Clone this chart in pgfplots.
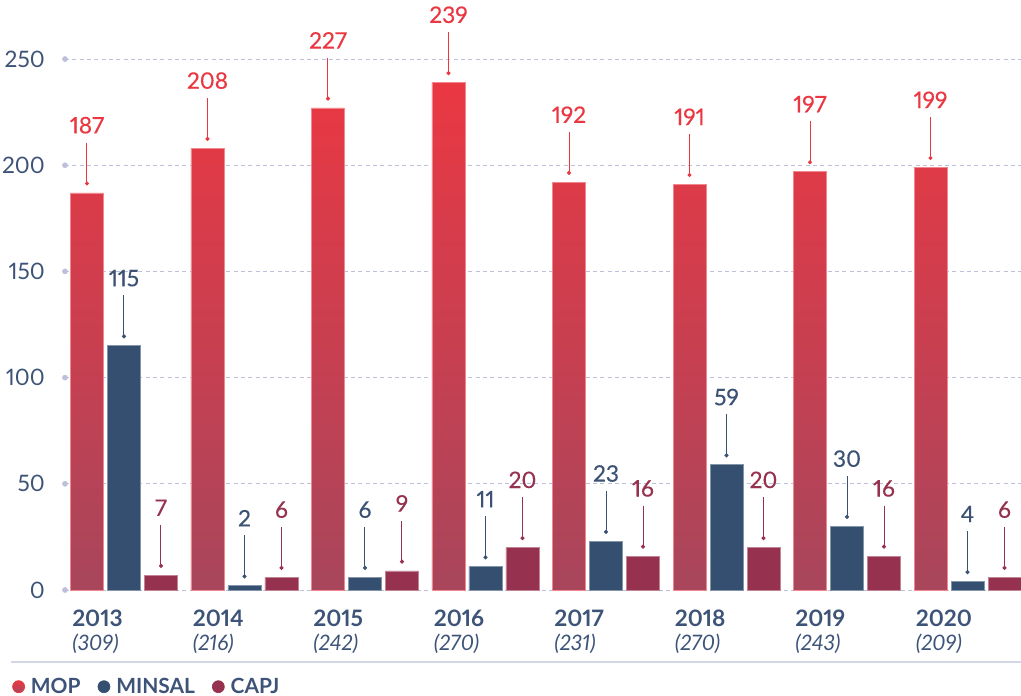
\documentclass[border=0pt]{standalone}
\usepackage{fontspec}
\setmainfont{Lato}[Numbers=Proportional]
\newfontfamily\medfont{Lato}[Numbers=Proportional, FakeBold=0.4]
\usepackage{pgfplots}
\pgfplotsset{compat=1.18}
\usetikzlibrary{arrows.meta}
\definecolor{mopA}{HTML}{EA3843}
\definecolor{mopB}{HTML}{A8465C}
\definecolor{minsal}{HTML}{344F6F}
\definecolor{capj}{HTML}{96324F}
\definecolor{minsalT}{HTML}{3B5274}
\definecolor{axt}{HTML}{3D5478}
\definecolor{gridc}{HTML}{BCC0D8}
\definecolor{sepc}{HTML}{D3D7E4}
\newcommand{\vfont}{\medfont\fontsize{17}{20}\selectfont}
\newcommand{\yl}[2]{{\fontsize{17}{17.5}\selectfont\bfseries\upshape #1}\\(#2)}
\tikzset{vlab/.style={inner sep=0pt, outer sep=0pt, yshift=4.5pt,
  pin={[pin distance=32.25pt, inner sep=0pt, outer sep=6.75pt, text=#1, font=\vfont,
   pin edge={{Circle[length=3pt]}-, draw=#1, line width=0.75pt}]90:{\pgfmathprintnumber{\pgfplotspointmeta}}}}}
\begin{document}
\begin{tikzpicture}
\begin{axis}[name=ax, scale only axis, width=717pt, height=442.5pt,
  xmin=-0.4896, xmax=7.444, ymin=0, ymax=277.8,
  axis line style={draw=none}, major tick style={draw=none},
  ytick={0,50,100,150,200,250},
  ymajorgrids, major grid style={draw=gridc, dash pattern=on 3pt off 2.5pt, line width=0.75pt},
  xtick={0,...,7},
  xticklabels={{\yl{2013}{309}},{\yl{2014}{216}},{\yl{2015}{242}},{\yl{2016}{270}},{\yl{2017}{231}},{\yl{2018}{270}},{\yl{2019}{243}},{\yl{2020}{209}}},
  xticklabel style={align=left, anchor=north west, inner sep=0pt, xshift=-39pt, yshift=-15pt, font=\fontsize{16}{17.5}\selectfont\itshape, text=axt},
  yticklabel style={anchor=east, inner sep=0pt, xshift=-15pt, font=\fontsize{17}{20}\selectfont, text=axt},
  /pgf/number format/assume math mode=true,
  clip=false,
  legend style={at={(-0.0554,-0.1639)}, anchor=west, draw=none, fill=none, inner sep=0pt,
    legend columns=-1, font=\fontsize{15.7}{18}\selectfont\bfseries, text=axt,
    nodes={inner sep=0pt, text=axt},
    /tikz/every odd column/.style={column sep=4.5pt},
    /tikz/every even column/.style={column sep=12.75pt}},
  legend cell align=left,
]
\addplot[ybar, bar width=24.75pt, bar shift=-27.75pt, top color=mopA, bottom color=mopB, draw=mopA!60!white, line width=0.5pt,
  nodes near coords={\null}, every node near coord/.append style={vlab=mopA, xshift=-27.75pt},
  legend image code/.code={\fill[mopA] (4.5pt,0pt) circle (4.5pt);}]
  coordinates {(0,187) (1,208) (2,227) (3,239) (4,192) (5,191) (6,197) (7,199)};
\addlegendentry{MOP}
\addplot[ybar, bar width=24.75pt, bar shift=0pt, fill=minsal, draw=minsal!60!white, line width=0.5pt,
  nodes near coords={\null}, every node near coord/.append style={vlab=minsalT},
  legend image code/.code={\fill[minsal] (4.5pt,0pt) circle (4.5pt);}]
  coordinates {(0,115) (1,2) (2,6) (3,11) (4,23) (5,59) (6,30) (7,4)};
\addlegendentry{MINSAL}
\addplot[ybar, bar width=24.75pt, bar shift=27.75pt, fill=capj, draw=capj!60!white, line width=0.5pt,
  nodes near coords={\null}, every node near coord/.append style={vlab=capj, xshift=27.75pt},
  legend image code/.code={\fill[capj] (4.5pt,0pt) circle (4.5pt);}]
  coordinates {(0,7) (1,6) (2,9) (3,20) (4,16) (5,20) (6,16) (7,6)};
\addlegendentry{CAPJ}
\addplot[sharp plot, only marks, mark=*, mark size=1.9pt, color=gridc, forget plot]
  coordinates {(-0.4896,0) (-0.4896,50) (-0.4896,100) (-0.4896,150) (-0.4896,200) (-0.4896,250)};
\end{axis}
\draw[sepc, line width=1pt] ([xshift=-40.5pt, yshift=-54pt]ax.south west) -- ([yshift=-54pt]ax.south east);
\pgfresetboundingbox
\useasboundingbox ([xshift=-48.75pt, yshift=-79.5pt]ax.south west) rectangle (ax.north east);
\end{tikzpicture}
\end{document}
